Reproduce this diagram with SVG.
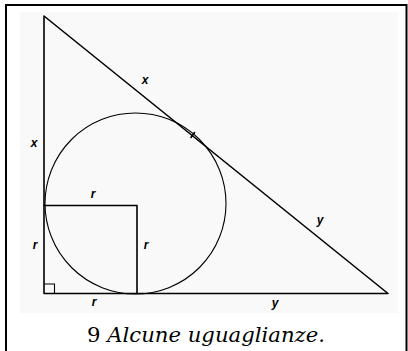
<svg xmlns="http://www.w3.org/2000/svg" width="408" height="351" viewBox="0 0 408 351">
<style>
.ln{fill:none;stroke:#000;stroke-width:1.6;stroke-linecap:round;stroke-linejoin:round}
.thin{fill:none;stroke:#000;stroke-width:1.1}
.lbl{font-family:"Liberation Sans",Arial,sans-serif;font-style:italic;font-weight:bold;font-size:12px;fill:#000;text-anchor:middle}
.cap{font-family:"DejaVu Serif",serif;font-size:21px;fill:#000}
</style>
<rect x="0" y="0" width="408" height="351" fill="#fff"/>
<rect x="20" y="12" width="378" height="301" fill="#f9f9f9"/>
<path d="M6 352 V5 H406.5 V352" fill="none" stroke="#000" stroke-width="2"/>
<g id="triangle">
<path class="ln" d="M44 16 L44 293.5 L388 293.5 Z"/>
<path class="thin" d="M44 284 H54.5 V293.5"/>
</g>
<g id="circle">
<circle class="thin" cx="135.5" cy="203.5" r="90.5"/>
<path class="ln" d="M191 137.5 L194.5 132.5"/>
</g>
<g id="square">
<path class="ln" d="M44 205.5 H137 V293.5"/>
</g>
<g id="labels">
<text class="lbl" x="145" y="84">x</text>
<text class="lbl" x="34" y="147">x</text>
<text class="lbl" x="93" y="198">r</text>
<text class="lbl" x="35" y="249">r</text>
<text class="lbl" x="146" y="249">r</text>
<text class="lbl" x="94" y="306">r</text>
<text class="lbl" x="320" y="224">y</text>
<text class="lbl" x="275" y="307">y</text>
</g>
<text class="cap" x="87" y="342" textLength="238" lengthAdjust="spacingAndGlyphs">9 <tspan font-style="italic">Alcune uguaglianze.</tspan></text>
</svg>
